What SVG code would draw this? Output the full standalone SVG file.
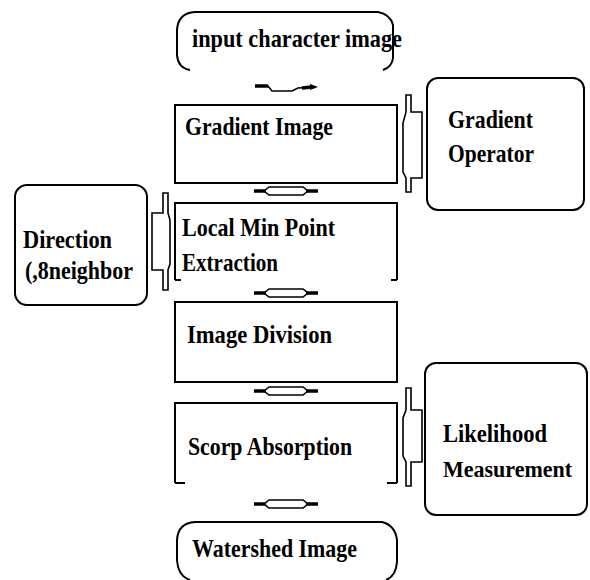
<svg xmlns="http://www.w3.org/2000/svg" width="590" height="580" viewBox="0 0 590 580">
<style>
.b{fill:none;stroke:#000;stroke-width:2}
.br{fill:#fff;stroke:#000;stroke-width:1.6}
.t{font-family:'Liberation Serif','DejaVu Serif',serif;font-weight:700;font-size:26px;fill:#000}
.c{fill:none;stroke:#000;stroke-width:1.6}
.ce{stroke:#000;stroke-width:3.5;fill:none}
</style>
<defs>
<g id="hc">
<path class="c" d="M-22,0 L-17,-4 L17,-4 L22,0 L17,4 L-17,4 Z"/>
<path class="ce" d="M-32,0 L-20,0 M20,0 L32,0"/>
</g>
</defs>
<rect width="590" height="580" fill="#fff"/>

<g id="n-input">
<path class="b" d="M190,70 Q178,68 177,55 L177,30 Q178,13 195,12 L378,12 Q390,14 393,25 L393,58 Q392,67 383,70"/>
<text class="t" x="192" y="47" textLength="210" lengthAdjust="spacingAndGlyphs">input character image</text>
</g>

<g id="n-gradient-image">
<rect class="b" x="175" y="105" width="222" height="78"/>
<text class="t" x="185" y="135" textLength="148" lengthAdjust="spacingAndGlyphs">Gradient Image</text>
</g>

<g id="n-localmin">
<path class="b" d="M175,280 L175,203 L397,203 L397,280 M175,280 L181,280 M397,280 L391,280"/>
<text class="t" x="182" y="236" textLength="153" lengthAdjust="spacingAndGlyphs">Local Min Point</text>
<text class="t" x="182" y="271" textLength="96" lengthAdjust="spacingAndGlyphs">Extraction</text>
</g>

<g id="n-division">
<rect class="b" x="175" y="302" width="222" height="80"/>
<text class="t" x="187" y="343" textLength="145" lengthAdjust="spacingAndGlyphs">Image Division</text>
</g>

<g id="n-scorp">
<path class="b" d="M175,483 L175,403 L397,403 L397,483 M175,483 L185,483 M397,483 L387,483"/>
<text class="t" x="188" y="455" textLength="164" lengthAdjust="spacingAndGlyphs">Scorp Absorption</text>
</g>

<g id="n-watershed">
<path class="b" d="M190,580 Q178,576 177,560 L177,540 Q178,523 195,522 L382,522 Q395,525 397,540 L397,562 Q396,576 386,580"/>
<text class="t" x="192" y="557" textLength="165" lengthAdjust="spacingAndGlyphs">Watershed Image</text>
</g>

<g id="n-gradop">
<rect class="b" x="427" y="78" width="157" height="132" rx="11"/>
<text class="t" x="448" y="128" textLength="85" lengthAdjust="spacingAndGlyphs">Gradient</text>
<text class="t" x="448" y="162" textLength="86" lengthAdjust="spacingAndGlyphs">Operator</text>
</g>

<g id="n-direction">
<rect class="b" x="15" y="185" width="132" height="120" rx="12"/>
<text class="t" x="23" y="248" textLength="89" lengthAdjust="spacingAndGlyphs">Direction</text>
<text class="t" x="25" y="279" textLength="108" lengthAdjust="spacingAndGlyphs">(,8neighbor</text>
</g>

<g id="n-likelihood">
<rect class="b" x="425" y="363" width="162" height="152" rx="11"/>
<text class="t" x="443" y="442" textLength="104" lengthAdjust="spacingAndGlyphs">Likelihood</text>
<text class="t" x="443" y="477" style="font-size:23px" textLength="129" lengthAdjust="spacingAndGlyphs">Measurement</text>
</g>

<g id="connectors">
<path class="c" d="M255,86 L268,86 L272,91 L292,91 L298,88 L316,87"/>
<path class="ce" d="M255,86 L268,86 M302,88 L312,87"/>
<path d="M310,84 L318,87 L310,90 Z" fill="#000"/>
<use href="#hc" x="286" y="191"/>
<use href="#hc" x="286" y="293"/>
<use href="#hc" x="286" y="391"/>
<use href="#hc" x="286" y="504"/>
<path class="br" d="M406,95 L411,95 L411,112 L422,112 L422,178 L411,178 L411,192 L406,192 L406,178 L403,172 L403,123 L406,112 Z"/>
<path class="br" d="M168,193 L163,193 L163,213 L152,213 L152,270 L163,270 L163,290 L168,290 L168,270 L170,264 L170,220 L168,213 Z"/>
<path class="br" d="M406,388 L411,388 L411,410 L422,410 L422,462 L411,462 L411,486 L406,486 L406,462 L403,456 L403,418 L406,410 Z"/>
</g>
</svg>
